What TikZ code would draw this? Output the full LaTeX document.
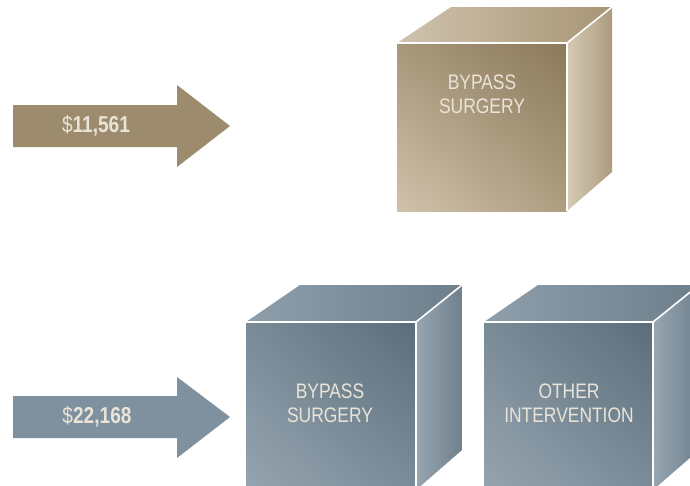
\documentclass[tikz,border=0pt]{standalone}
\usepackage{fontspec}
\setmainfont{Liberation Sans}[FakeStretch=0.83]
\usepackage{tikz}
\usetikzlibrary{positioning,calc,shadings}

\definecolor{tanarrow}{HTML}{9D8B6D}
\definecolor{slatearrow}{HTML}{7F909E}
\definecolor{cream}{HTML}{EAE4D8}
% tan cube
\definecolor{tantopL}{HTML}{D0C3AD}
\definecolor{tantopR}{HTML}{A79575}
\definecolor{tansideL}{HTML}{D6CAB5}
\definecolor{tansideR}{HTML}{AC9B7E}
\definecolor{tanUL}{HTML}{A8977A}
\definecolor{tanUR}{HTML}{8A795A}
\definecolor{tanLL}{HTML}{D0C2AB}
\definecolor{tanLR}{HTML}{AE9D80}
% slate cubes
\definecolor{slatetopL}{HTML}{8E9EAA}
\definecolor{slatetopR}{HTML}{6E7F8C}
\definecolor{slatesideL}{HTML}{97A6B1}
\definecolor{slatesideR}{HTML}{6F808D}
\definecolor{slateUL}{HTML}{7A8B98}
\definecolor{slateUR}{HTML}{5B6D7B}
\definecolor{slateLL}{HTML}{95A4AF}
\definecolor{slateLR}{HTML}{7B8C99}

\begin{document}
\begin{tikzpicture}[
  x=1pt,
  y=-1pt,
  facetext/.style={
    text=cream,
    align=center,
    inner sep=0pt,
    font=\fontsize{21}{24}\selectfont
  },
  price/.style={
    text=cream,
    inner sep=0pt,
    font=\fontsize{23}{26}\selectfont
  },
  edge/.style={draw=white,line width=1.6pt}
]
  \useasboundingbox (0,0) rectangle (690,485);
  \clip (0,0) rectangle (690,485);

  % arrows
  \fill[tanarrow] (13,105) -- (177,105) -- (177,85) -- (230,126)
    -- (177,167) -- (177,147) -- (13,147) -- cycle;
  \fill[slatearrow] (13,396) -- (177,396) -- (177,377) -- (230,417)
    -- (177,458) -- (177,438) -- (13,438) -- cycle;

  \node[price] (p1) at (96,126) {\$\textbf{11,561}};
  \node[price] (p2) at (97,417) {\$\textbf{22,168}};

  % upper cube
  \coordinate (a1) at (397,43);
  \coordinate (b1) at (567,43);
  \coordinate (c1) at (567,211);
  \coordinate (d1) at (397,211);
  \coordinate (e1) at (451,7);
  \coordinate (f1) at (612,7);
  \coordinate (g1) at (612,172);

  \shade[left color=tantopL,right color=tantopR]
    (a1) -- (e1) -- (f1) -- (b1) -- cycle;
  \shade[left color=tansideL,right color=tansideR]
    (b1) -- (f1) -- (g1) -- (c1) -- cycle;
  \shade[upper left=tanUL,upper right=tanUR,
         lower left=tanLL,lower right=tanLR]
    (a1) rectangle (c1);
  \draw[edge] (a1) -- (b1) -- (c1);
  \draw[edge] (b1) -- (f1);

  \node[facetext] (t1) at (482,94) {BYPASS\\SURGERY};

  % lower cubes
  \coordinate (a2) at (246,322);
  \coordinate (b2) at (416,322);
  \coordinate (c2) at (416,490);
  \coordinate (d2) at (246,490);
  \coordinate (e2) at (300,285);
  \coordinate (f2) at (462,285);
  \coordinate (g2) at (462,450);

  \shade[left color=slatetopL,right color=slatetopR]
    (a2) -- (e2) -- (f2) -- (b2) -- cycle;
  \shade[left color=slatesideL,right color=slatesideR]
    (b2) -- (f2) -- (g2) -- (c2) -- cycle;
  \shade[upper left=slateUL,upper right=slateUR,
         lower left=slateLL,lower right=slateLR]
    (a2) rectangle (c2);
  \draw[edge] (a2) -- (b2) -- (c2);
  \draw[edge] (b2) -- (f2);

  \node[facetext] (t2) at (330,403) {BYPASS\\SURGERY};

  \coordinate (a3) at (484,322);
  \coordinate (b3) at (653,322);
  \coordinate (c3) at (653,490);
  \coordinate (d3) at (484,490);
  \coordinate (e3) at (538,285);
  \coordinate (f3) at (699,285);
  \coordinate (g3) at (699,450);

  \shade[left color=slatetopL,right color=slatetopR]
    (a3) -- (e3) -- (f3) -- (b3) -- cycle;
  \shade[left color=slatesideL,right color=slatesideR]
    (b3) -- (f3) -- (g3) -- (c3) -- cycle;
  \shade[upper left=slateUL,upper right=slateUR,
         lower left=slateLL,lower right=slateLR]
    (a3) rectangle (c3);
  \draw[edge] (a3) -- (b3) -- (c3);
  \draw[edge] (b3) -- (f3);

  \node[facetext] (t3) at (569,403) {OTHER\\INTERVENTION};
\end{tikzpicture}
\end{document}
